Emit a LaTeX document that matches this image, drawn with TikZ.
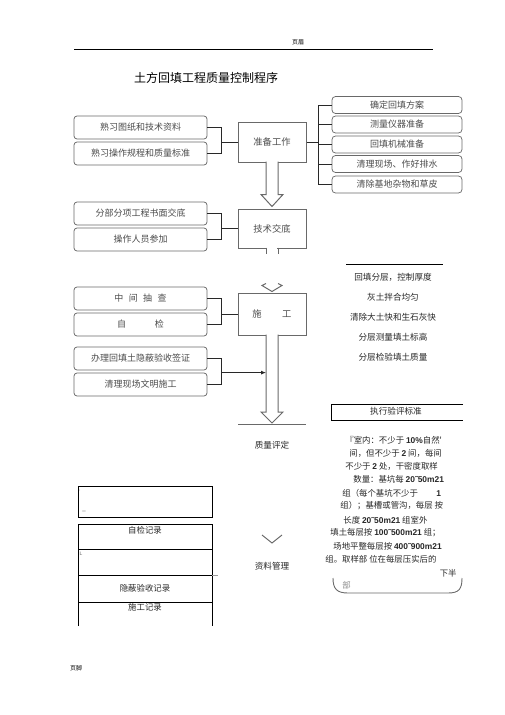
\documentclass[tikz,border=0pt]{standalone}
\usepackage{fontspec}
\setmainfont{Liberation Sans}
\newfontfamily\cjk{Noto Sans CJK SC}
\newfontfamily\lsans{Liberation Sans}
\usetikzlibrary{arrows.meta}
\definecolor{boxgray}{RGB}{105,105,105}
\definecolor{txtgray}{RGB}{75,75,75}
\definecolor{linedark}{RGB}{40,40,40}
\newcommand\nb[1]{{\lsans\bfseries #1}}

\tikzset{every picture/.style={line width=0.75pt}}
\tikzset{
  sidebox/.style={draw=boxgray,rounded corners=3pt,minimum width=133,minimum height=23,inner sep=0pt,text=txtgray,font=\cjk\fontsize{9}{10}\selectfont},
  listbox/.style={draw=boxgray,rounded corners=3.5pt,minimum width=130,minimum height=17,inner sep=0pt,text=txtgray,font=\cjk\fontsize{9}{10}\selectfont},
  stepbox/.style={draw=boxgray,line width=1pt,minimum width=68,inner sep=0pt,text=txtgray,font=\cjk\fontsize{9.3}{10}\selectfont},
  bracket/.style={draw=linedark,line width=0.8pt},
  wide/.style={draw=boxgray,line width=1pt,fill=white},
  plain/.style={inner sep=0pt,text=black!85,font=\cjk\fontsize{8.6}{10}\selectfont},
  small/.style={inner sep=0pt,text=black!85,font=\cjk\fontsize{8.4}{10}\selectfont},
}

\begin{document}
\begin{tikzpicture}[x=1pt,y=1pt,yscale=-1,xscale=1]
\useasboundingbox (0,0) rectangle (505,715);

% header and title
\node[inner sep=0pt,font=\cjk\fontsize{6}{7}\selectfont] (hdr) at (298,42) {页眉};
\draw[line width=0.8pt] (74,49) -- (433,49);
\node[inner sep=0pt,font=\cjk\fontsize{12}{14}\selectfont] (ttl) at (206,78) {土方回填工程质量控制程序};

% main steps
\node[stepbox,minimum height=40] (prep) at (272,142) {准备工作};
\node[stepbox,minimum height=39] (tech) at (272,228.5) {技术交底};
\node[stepbox,minimum height=42] (cons) at (272,314) {施\hspace{2.2em}工};
\coordinate (qtop) at (272,424);
\node[plain] (qual) at (272,445) {质量评定};
\coordinate (dtop) at (272,543);
\node[plain] (data) at (272,566) {资料管理};

% left boxes
\node[sidebox] (l1) at (140.5,127.5) {熟习图纸和技术资料};
\node[sidebox] (l2) at (140.5,153.5) {熟习操作规程和质量标准};
\node[sidebox] (l3) at (140.5,213.5) {分部分项工程书面交底};
\node[sidebox] (l4) at (140.5,239.5) {操作人员参加};
\node[sidebox] (l5) at (140.5,298.5) {中\hspace{0.6em}间\hspace{0.6em}抽\hspace{0.6em}查};
\node[sidebox] (l6) at (140.5,324.5) {自\hspace{3.2em}检};
\node[sidebox] (l7) at (140.5,358.5) {办理回填土隐蔽验收签证};
\node[sidebox] (l8) at (140.5,384.5) {清理现场文明施工};

% right boxes
\node[listbox] (r1) at (397,105) {确定回填方案};
\node[listbox] (r2) at (397,124.5) {测量仪器准备};
\node[listbox] (r3) at (397,144.5) {回填机械准备};
\node[listbox] (r4) at (397,164) {清理现场、作好排水};
\node[listbox] (r5) at (397,184.5) {清除基地杂物和草皮};

% brackets
\coordinate (bx) at (221,0);
\coordinate (rx) at (318,0);
\draw[bracket] (l1.east) -- (l1.east -| bx) -- (l2.east -| bx) -- (l2.east);
\draw[bracket] (bx |- prep.west) -- (prep.west);
\draw[bracket] (l3.east) -- (l3.east -| bx) -- (l4.east -| bx) -- (l4.east);
\draw[bracket] (bx |- tech.west) -- (tech.west);
\draw[bracket] (l5.east) -- (l5.east -| bx) -- (l6.east -| bx) -- (l6.east);
\draw[bracket] (bx |- cons.west) -- (cons.west);
\draw[bracket] (prep.east) -- (prep.east -| rx);
\draw[bracket] (r1.west -| rx) -- (r5.west -| rx);
\foreach \i in {1,...,5} \draw[bracket] (r\i.west -| rx) -- (r\i.west);

% wide arrows (yshift follows yscale=-1: negative is up)
\draw[wide] ([xshift=-6,yshift=-1]prep.south) -- ([xshift=-6,yshift=-14]tech.north) -- ([xshift=-11,yshift=-14]tech.north) -- ([yshift=-2]tech.north) -- ([xshift=11,yshift=-14]tech.north) -- ([xshift=6,yshift=-14]tech.north) -- ([xshift=6,yshift=-1]prep.south);
\draw[wide] ([xshift=-6,yshift=-1]tech.south) -- ([xshift=-6,yshift=5]tech.south);
\draw[wide] ([xshift=6,yshift=-1]tech.south) -- ([xshift=6,yshift=5]tech.south);
\fill[white] ([xshift=-5.4,yshift=-1]tech.south) rectangle ([xshift=5.4,yshift=1]tech.south);
\draw[boxgray,line width=1pt] ([xshift=-6,yshift=-9]cons.north) -- ([xshift=-10,yshift=-7]cons.north) -- ([yshift=-1]cons.north) -- ([xshift=10,yshift=-7]cons.north) -- ([xshift=6,yshift=-9]cons.north);
\draw[boxgray,line width=1pt] ([xshift=-34]qtop) -- ([xshift=34]qtop);
\draw[wide] ([xshift=-6,yshift=-1]cons.south) -- ([xshift=-6,yshift=-12]qtop) -- ([xshift=-11,yshift=-12]qtop) -- ([yshift=-1]qtop) -- ([xshift=11,yshift=-12]qtop) -- ([xshift=6,yshift=-12]qtop) -- ([xshift=6,yshift=-1]cons.south);
\fill[white] ([xshift=-5.4,yshift=-1]cons.south) rectangle ([xshift=5.4,yshift=1]cons.south);
\draw[boxgray,line width=1pt] ([xshift=-10,yshift=-8]dtop) -- (dtop) -- ([xshift=10,yshift=-8]dtop);

% bracket with arrow
\coordinate (sh) at ([xshift=-6]cons.south);
\draw[bracket] (l7.east) -- (l7.east -| bx) -- (l8.east -| bx) -- (l8.east);
\draw[bracket,-{Latex[length=5pt,width=4pt]}] (bx |- l8.north) -- (sh |- l8.north);

% measures list
\draw[line width=0.9pt] (346,264) -- (443,264);
\node[plain] (m1) at (393,277) {回填分层，控制厚度};
\node[plain] (m2) at (393,297) {灰土拌合均匀};
\node[plain] (m3) at (393,317) {清除大土快和生石灰快};
\node[plain] (m4) at (393,337) {分层测量填土标高};
\node[plain] (m5) at (393,357) {分层检验填土质量};

% standard
\draw[line width=0.9pt] (463,404) -- (331,404) -- (331,420) -- (463,420);
\node[plain] (std) at (396,411.5) {执行验评标准};
\node[small,anchor=west] (t1) at (345,440) {『室内：不少于 \nb{10\%}自然'};
\node[small,anchor=west] (t2) at (349,453) {间，但不少于 \nb{2} 间，每间};
\node[small,anchor=west] (t3) at (345,466) {不少于 \nb{2} 处，干密度取样};
\node[small,anchor=west] (t4) at (353,479) {数量：基坑每 \nb{20˜50m21}};
\node[small,anchor=west] (t5) at (342,493) {组（每个基坑不少于\hspace{2.2em}\nb{1}};
\node[small,anchor=west] (t6) at (340,506) {组）；基槽或管沟，每层 按};
\node[small,anchor=west] (t7) at (343,520) {长度 \nb{20˜50m21} 组室外};
\node[small,anchor=west] (t8) at (330,533) {填土每层按 \nb{100˜500m21} 组；};
\node[small,anchor=west] (t9) at (333,546) {场地平整每层按 \nb{400˜900m21}};
\node[small,anchor=west] (t10) at (325,559) {组。取样部 位在每层压实后的};
\node[small,anchor=east] (t11) at (457,573) {下半};
\node[small,anchor=west,text=black!45] (t12) at (342,585) {部};
\draw[boxgray,line width=0.9pt] (333,578) .. controls (333,589) and (337,593) .. (348,593) -- (448,593) .. controls (459,593) and (462,589) .. (462,578);

% records
\draw[line width=0.9pt] (78,486) rectangle (212,517);
\node[inner sep=0pt,text=black!50,font=\fontsize{5}{6}\selectfont] (ma) at (80,492) {'};
\node[inner sep=0pt,text=black!70,font=\fontsize{6}{6}\selectfont] (mb) at (84,511) {\_};
\draw[line width=0.9pt] (78,626) -- (78,524) -- (212,524) -- (212,626);
\draw[line width=0.9pt] (78,549) -- (212,549);
\draw[line width=0.9pt] (78,575) -- (212,575);
\draw[line width=0.9pt] (78,602) -- (212,602);
\draw[black!40,line width=0.6pt] (212,575) -- (218,575);
\node[small] (rec1) at (145,530) {自检记录};
\node[small] (rec2) at (145,588) {隐蔽验收记录};
\node[small] (rec3) at (145,607) {施工记录};
\node[inner sep=0pt,text=black!60,font=\fontsize{5}{6}\selectfont] (mc) at (81,554) {L};

% footer
\node[inner sep=0pt,font=\cjk\fontsize{6}{7}\selectfont] (ftr) at (76,668) {页脚};
\end{tikzpicture}
\end{document}
